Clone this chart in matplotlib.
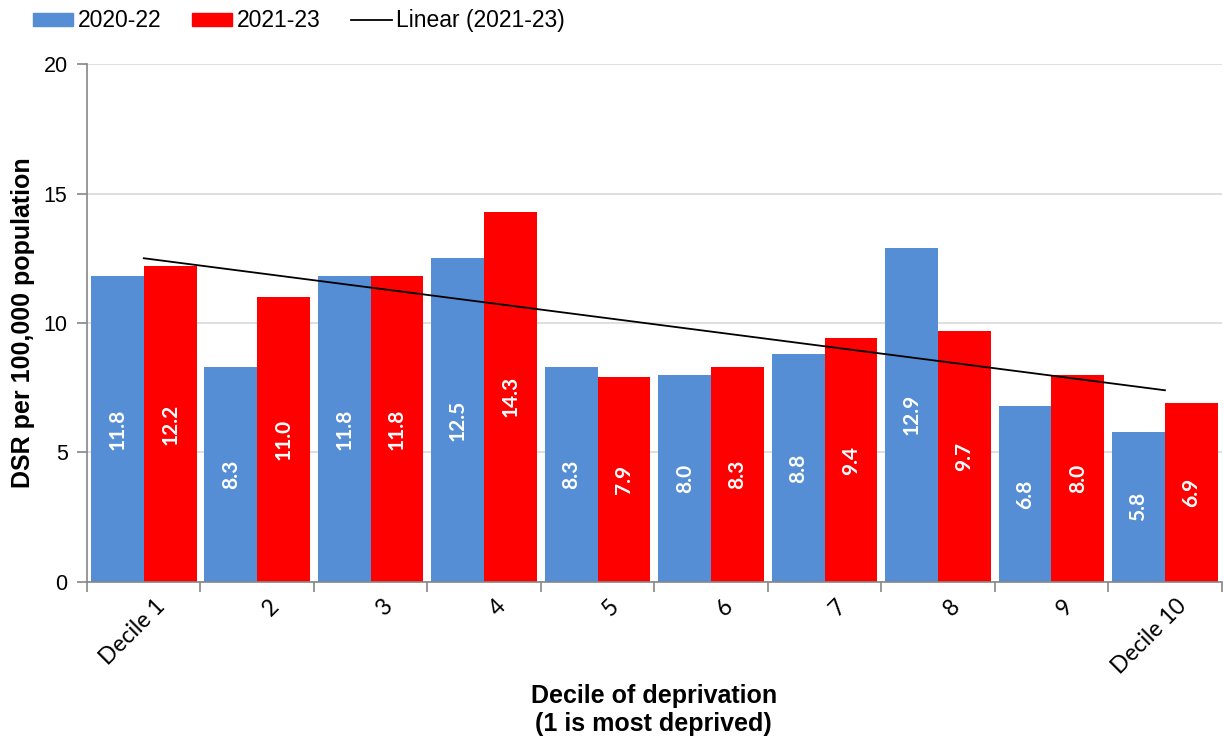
import numpy as np
import matplotlib.pyplot as plt
import matplotlib.transforms as mtransforms
from matplotlib.patches import Patch
from matplotlib.lines import Line2D

# Data
deciles = ['Decile 1', '2', '3', '4', '5', '6', '7', '8', '9', 'Decile 10']
rate_2020_22 = [11.8, 8.3, 11.8, 12.5, 8.3, 8.0, 8.8, 12.9, 6.8, 5.8]
rate_2021_23 = [12.2, 11.0, 11.8, 14.3, 7.9, 8.3, 9.4, 9.7, 8.0, 6.9]

blue = '#558ED5'
red = '#FF0000'
grey = '#868686'
arial = 'Liberation Sans'
calibri = 'Lato'

x = np.arange(1, len(deciles) + 1)
w = 0.465

fig = plt.figure(figsize=(12.24, 7.45), dpi=100)
ax = fig.add_axes([0.0711, 0.219, 0.927, 0.695])

b1 = ax.bar(x - w / 2, rate_2020_22, w, color=blue, zorder=2)
b2 = ax.bar(x + w / 2, rate_2021_23, w, color=red, zorder=2)

# Bar labels, centred and rotated
for bars, vals in ((b1, rate_2020_22), (b2, rate_2021_23)):
    for r, v in zip(bars, vals):
        ax.text(r.get_x() + r.get_width() / 2, v / 2, f'{v:.1f}',
                rotation=90, ha='center', va='center', color='white',
                fontsize=15, fontweight='bold', family=calibri, zorder=3)

# Linear trend of 2021-23
m, c = np.polyfit(x, rate_2021_23, 1)
ax.plot([x[0], x[-1]], [m * x[0] + c, m * x[-1] + c], color='black', lw=1.3, zorder=4)

ax.set_xlim(0.5, 10.5)
ax.set_ylim(0, 20)
ax.set_yticks([0, 5, 10, 15, 20])
ax.yaxis.grid(True, color='#D9D9D9', lw=1.2, zorder=0)
ax.set_axisbelow(True)

for s in ('top', 'right'):
    ax.spines[s].set_visible(False)
for s in ('left', 'bottom'):
    ax.spines[s].set_color(grey)
    ax.spines[s].set_linewidth(1.2)

ax.tick_params(axis='y', colors=grey, length=7, width=1.2, labelcolor='black',
               labelsize=15.5, pad=7)
for lab in ax.get_yticklabels():
    lab.set_family(arial)

ax.set_xticks(x)
ax.set_xticklabels(deciles, rotation=45, ha='right', rotation_mode='anchor',
                   fontsize=16.5, family=calibri)
ax.tick_params(axis='x', length=0, pad=10)
# nudge rotated labels right, like Excel places them
shift = mtransforms.ScaledTranslation(11 / 100, 0, fig.dpi_scale_trans)
for lab in ax.get_xticklabels():
    lab.set_transform(lab.get_transform() + shift)
ax.set_xticks(np.arange(0.5, 11, 1), minor=True)
ax.tick_params(axis='x', which='minor', colors=grey, length=7, width=1.2)

ax.set_ylabel('DSR per 100,000 population', fontsize=18, fontweight='bold',
              family=arial, labelpad=6)
fig.text(0.534, 0.047, 'Decile of deprivation\n(1 is most deprived)', fontsize=18,
         fontweight='bold', family=arial, ha='center', va='center',
         linespacing=1.2)

handles = [Patch(color=blue, label='2020-22'),
           Patch(color=red, label='2021-23'),
           Line2D([], [], color='black', lw=1.3, label='Linear (2021-23)')]
fig.legend(handles=handles, loc='upper left', bbox_to_anchor=(0.010, 1.015), ncol=3,
           frameon=False, prop={'family': arial, 'size': 16.5},
           handlelength=1.75, handleheight=0.5, columnspacing=1.35, handletextpad=0.2)

fig.savefig('out.png', dpi=100)
